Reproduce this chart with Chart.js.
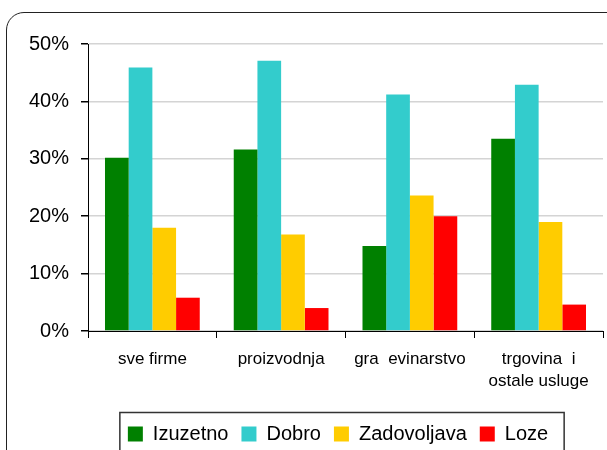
<!DOCTYPE html>
<html>
<head>
<meta charset="utf-8">
<script src="https://cdn.jsdelivr.net/npm/chart.js@4"></script>
<style>
  html, body { margin: 0; padding: 0; background: #fff; overflow: hidden; }
  #frame {
    position: absolute; left: 6px; top: 12px; width: 620px; height: 470px;
    border: 1.5px solid #222; border-radius: 18px;
  }
  #wrap { position: absolute; left: 0; top: 0; width: 607px; height: 450px; }
</style>
</head>
<body>
<div id="frame"></div>
<div id="wrap"><canvas id="chart"></canvas></div>
<script>
const categories = ['sve firme', 'proizvodnja', 'gra  evinarstvo', ['trgovina  i', 'ostale usluge']];
const seriesNames = ['Izuzetno', 'Dobro', 'Zadovoljava', 'Loze'];
const izuzetno = [30.2, 31.6, 14.8, 33.5];
const dobro = [45.9, 47.1, 41.2, 42.9];
const zadovoljava = [18.0, 16.8, 23.6, 19.0];
const loze = [5.8, 4.0, 20.0, 4.6];
const yTicks = [0, 10, 20, 30, 40, 50];

const colors = ['#008000', '#33CCCC', '#FFCC00', '#FF0000'];
const FONT = "'Liberation Sans', Arial, sans-serif";

// border round the legend, taken from the legend's own hit boxes
const legendBorder = {
  id: 'legendBorder',
  afterDraw(chart) {
    const boxes = chart.legend.legendHitBoxes;
    if (!boxes || !boxes.length) return;
    const left = Math.min(...boxes.map(b => b.left)) - 8;
    const right = Math.max(...boxes.map(b => b.left + b.width)) + 16;
    const top = boxes[0].top - 11.5;
    const ctx = chart.ctx;
    ctx.save();
    ctx.strokeStyle = '#333';
    ctx.lineWidth = 1.5;
    ctx.strokeRect(left, top, right - left, chart.height + 20 - top);
    ctx.restore();
  }
};

new Chart(document.getElementById('chart'), {
  type: 'bar',
  data: {
    labels: categories,
    datasets: [izuzetno, dobro, zadovoljava, loze].map((d, i) => ({
      label: seriesNames[i],
      data: d,
      backgroundColor: colors[i],
      borderWidth: 0,
      barPercentage: 1,
      categoryPercentage: 0.736
    }))
  },
  options: {
    responsive: true, maintainAspectRatio: false,
    animation: false,
    layout: { padding: { left: 73, right: 4, top: 44, bottom: -4 } },
    plugins: {
      tooltip: { enabled: false },
      legend: {
        position: 'bottom',
        labels: {
          boxWidth: 15, boxHeight: 15, padding: 13,
          color: '#000', font: { family: FONT, size: 20 }
        }
      }
    },
    scales: {
      x: {
        grid: { offset: true, drawOnChartArea: false, tickLength: 7, tickColor: '#000' },
        border: { color: '#000', width: 1 },
        ticks: {
          color: '#000', padding: 10, maxRotation: 0, autoSkip: false,
          font: { family: FONT, size: 17, lineHeight: 1.3 }
        },
        afterFit: (scale) => { scale.height = 80; }
      },
      y: {
        min: 0, max: 50,
        afterBuildTicks: (scale) => { scale.ticks = yTicks.map(v => ({ value: v })); },
        grid: { color: '#d4d4d4', lineWidth: 1.5, tickLength: 7, tickColor: '#000' },
        border: { color: '#000', width: 1 },
        ticks: {
          color: '#000', padding: 12,
          font: { family: FONT, size: 20 },
          callback: (v) => v + '%'
        },
        afterFit: (scale) => {
          scale.width = 15;
          // narrow axis box: let the tick labels draw past it
          scale._computeLabelArea = () => undefined;
        }
      }
    }
  },
  plugins: [legendBorder]
});
</script>
</body>
</html>
